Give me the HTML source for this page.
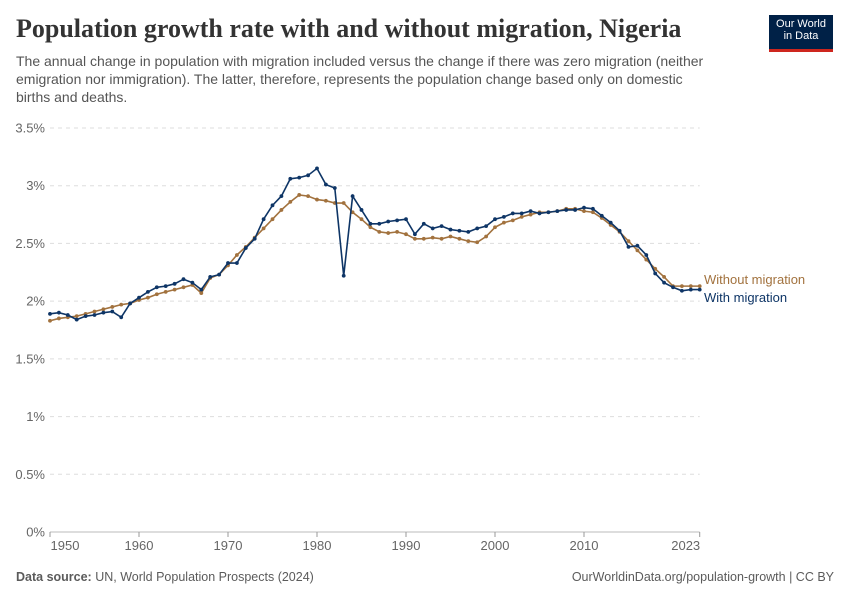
<!DOCTYPE html>
<html><head><meta charset="utf-8"><style>
body{margin:0;background:#fff;font-family:"Liberation Sans",sans-serif}
#wrap{position:relative;width:850px;height:600px;overflow:hidden}
h1{position:absolute;left:16px;top:14px;margin:0;font-family:"Liberation Serif",serif;font-weight:bold;font-size:26px;color:#333;white-space:nowrap}
.sub{position:absolute;left:16px;top:52px;width:700px;font-size:14px;line-height:18px;color:#555}
.logo{position:absolute;left:769px;top:15px;width:64px;height:37px;background:#002147;color:#fff;font-size:11px;line-height:12px;text-align:center;padding-top:3px;box-sizing:border-box;border-bottom:3px solid #ce261e}
.foot{position:absolute;top:570px;font-size:12.5px;color:#5b5b5b}
</style></head><body><div id="wrap">
<h1>Population growth rate with and without migration, Nigeria</h1>
<div class="sub">The annual change in population with migration included versus the change if there was zero migration (neither emigration nor immigration). The latter, therefore, represents the population change based only on domestic births and deaths.</div>
<div class="logo">Our World<br>in Data</div>
<svg id="chart" width="850" height="600" style="position:absolute;left:0;top:0"></svg>
<div class="foot" style="left:16px"><b>Data source:</b> UN, World Population Prospects (2024)</div>
<div class="foot" style="right:16px">OurWorldinData.org/population-growth | CC BY</div>
</div>
<script>
const years=[];for(let y=1950;y<=2023;y++)years.push(y);
const withMig=[1.89,1.90,1.88,1.84,1.87,1.88,1.90,1.91,1.86,1.98,2.03,2.08,2.12,2.13,2.15,2.19,2.16,2.10,2.21,2.23,2.33,2.33,2.46,2.54,2.71,2.83,2.91,3.06,3.07,3.09,3.15,3.01,2.98,2.22,2.91,2.79,2.67,2.67,2.69,2.70,2.71,2.58,2.67,2.63,2.65,2.62,2.61,2.60,2.63,2.65,2.71,2.73,2.76,2.76,2.78,2.76,2.77,2.78,2.79,2.79,2.81,2.80,2.74,2.68,2.61,2.47,2.48,2.40,2.24,2.16,2.12,2.09,2.10,2.10];
const withoutMig=[1.83,1.85,1.86,1.87,1.89,1.91,1.93,1.95,1.97,1.98,2.01,2.03,2.06,2.08,2.10,2.12,2.14,2.07,2.20,2.23,2.31,2.40,2.47,2.55,2.63,2.71,2.79,2.86,2.92,2.91,2.88,2.87,2.85,2.85,2.77,2.71,2.64,2.60,2.59,2.60,2.58,2.54,2.54,2.55,2.54,2.56,2.54,2.52,2.51,2.56,2.64,2.68,2.70,2.73,2.75,2.77,2.77,2.78,2.80,2.80,2.78,2.77,2.72,2.66,2.60,2.52,2.44,2.36,2.28,2.21,2.13,2.13,2.13,2.13];
const yTicks=[0,0.5,1,1.5,2,2.5,3,3.5];
const xTicks=[1950,1960,1970,1980,1990,2000,2010,2023];
const NS="http://www.w3.org/2000/svg";const svg=document.getElementById('chart');
const x0=50,x1=699.7,y0=532,yTop=128;
const X=v=>x0+(v-1950)*(x1-x0)/73;
const Y=v=>y0-v*(y0-yTop)/3.5;
function el(t,a,txt){const e=document.createElementNS(NS,t);for(const k in a)e.setAttribute(k,a[k]);if(txt!==undefined)e.textContent=txt;svg.appendChild(e);return e;}
yTicks.forEach(t=>{
 const g=el('line',{x1:x0,x2:x1,y1:Y(t),y2:Y(t),stroke:t===0?'#bbb':'#ddd','stroke-dasharray':t===0?'':'4,4'});
 
 
 const l=el('text',{x:45,y:Y(t)+4.5,'text-anchor':'end','font-size':13,fill:'#666'},t+'%');
 
 
});
xTicks.forEach((t,i)=>{
 const tk=el('line',{x1:X(t),x2:X(t),y1:y0,y2:y0+5,stroke:'#999'});
 
 
 const l=el('text',{x:i===0?X(t)+15:(i===xTicks.length-1?X(t)-14:X(t)),y:y0+18,'text-anchor':'middle','font-size':13,fill:'#666'},t);
 
 
});
function series(vals,col,name){
 const p=el('polyline',{points:vals.map((v,i)=>X(years[i])+','+Y(v)).join(' '),fill:'none',stroke:col,'stroke-width':1.6});
 
 
 vals.forEach((v,i)=>{const c=el('circle',{cx:X(years[i]),cy:Y(v),r:1.9,fill:col});
 
 });
}
series(withoutMig,'#a2723e','without-migration');
series(withMig,'#0e3566','with-migration');
const la=el('text',{x:704,y:284,'font-size':13,fill:'#a2723e'},'Without migration');


const lb=el('text',{x:704,y:302,'font-size':13,fill:'#0e3566'},'With migration');


</script></body></html>
